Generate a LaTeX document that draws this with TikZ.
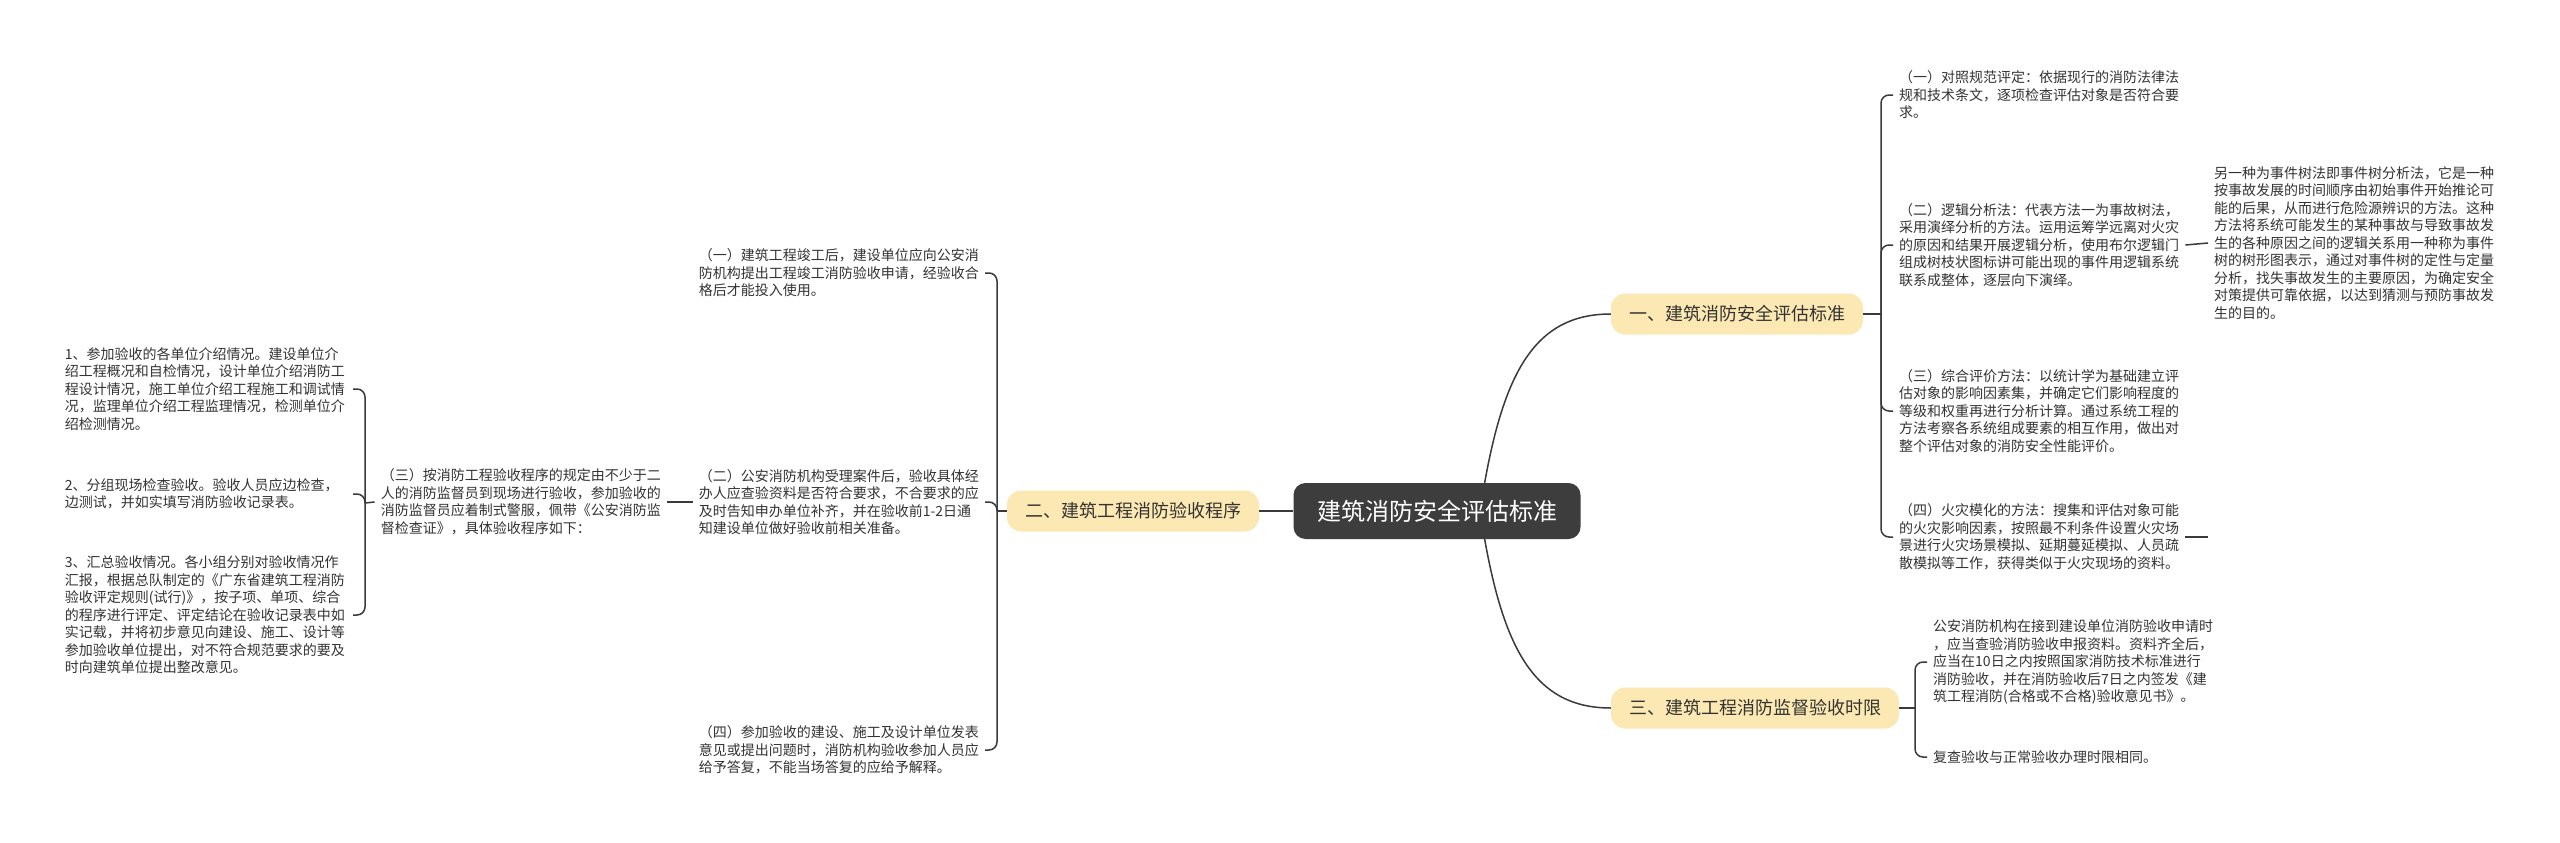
\documentclass[tikz,border=0pt]{standalone}
\usepackage{fontspec}
\setmainfont{Noto Sans CJK SC}
\definecolor{rootgray}{HTML}{3D3D3D}
\definecolor{topicyellow}{HTML}{FCE8B2}
\definecolor{textgray}{HTML}{333333}
\definecolor{linegray}{HTML}{3A3A3A}

\begin{document}
\begin{tikzpicture}[
      x = 1pt, y = -1pt,
      every node/.style = {inner sep = 0pt, text = textgray},
      root/.style = {
        fill = rootgray, text = white, rounded corners = 12pt,
        minimum width = 287pt, minimum height = 56pt,
        font = \fontsize{24}{28}\selectfont},
      topic/.style = {
        fill = topicyellow, rounded corners = 14pt,
        minimum height = 41pt, inner xsep = 18pt,
        font = \fontsize{18}{22}\selectfont},
      leaf/.style = {
        align = left, inner xsep = 6pt, inner ysep = 2pt,
        font = \fontsize{14}{17.5}\selectfont},
      link/.style = {linegray, line width = 1.5pt, rounded corners = 8pt}
      ]
    \fill[white] (0,0) rectangle (2560,843);
    \useasboundingbox (0,0) rectangle (2560,843);
    % main topics
    \node[topic] (b1) at (1737,314) {一、建筑消防安全评估标准}; % 1
    \node[topic] (b2) at (1133,511) {二、建筑工程消防验收程序}; % 2
    \node[topic] (b3) at (1755,708) {三、建筑工程消防监督验收时限}; % 3
    \coordinate (cr) at (1480,511);
    \draw[link] (cr) .. controls (1500,380) and (1530,314) .. (b1.west);
    \draw[link] (cr) .. controls (1500,642) and (1530,708) .. (b3.west);
    \node[root] (c) at (1437,511) {建筑消防安全评估标准}; % 0
    \draw[link] (c.west) -- (b2.east);
    % topic 1
    \coordinate (j1) at (1881,314);
    \node[leaf, anchor = west] (r1) at (1893,95) {（一）对照规范评定：依据现行的消防法律法\\规和技术条文，逐项检查评估对象是否符合要\\求。};
    \node[leaf, anchor = west] (r2) at (1893,245) {（二）逻辑分析法：代表方法一为事故树法，\\采用演绎分析的方法。运用运筹学远离对火灾\\的原因和结果开展逻辑分析，使用布尔逻辑门\\组成树枝状图标讲可能出现的事件用逻辑系统\\联系成整体，逐层向下演绎。};
    \node[leaf, anchor = west] (r3) at (1893,411) {（三）综合评价方法：以统计学为基础建立评\\估对象的影响因素集，并确定它们影响程度的\\等级和权重再进行分析计算。通过系统工程的\\方法考察各系统组成要素的相互作用，做出对\\整个评估对象的消防安全性能评价。};
    \node[leaf, anchor = west] (r4) at (1893,537) {（四）火灾模化的方法：搜集和评估对象可能\\的火灾影响因素，按照最不利条件设置火灾场\\景进行火灾场景模拟、延期蔓延模拟、人员疏\\散模拟等工作，获得类似于火灾现场的资料。};
    \node[leaf, anchor = west] (r5) at (2208,243) {另一种为事件树法即事件树分析法，它是一种\\按事故发展的时间顺序由初始事件开始推论可\\能的后果，从而进行危险源辨识的方法。这种\\方法将系统可能发生的某种事故与导致事故发\\生的各种原因之间的逻辑关系用一种称为事件\\树的树形图表示，通过对事件树的定性与定量\\分析，找失事故发生的主要原因，为确定安全\\对策提供可靠依据，以达到猜测与预防事故发\\生的目的。};
    \coordinate (r4x) at (2208,537);
    \draw[link] (b1.east) -- (j1);
    \draw[link] (j1) |- (r1.west);
    \draw[link] (j1) |- (r2.west);
    \draw[link] (j1) |- (r3.west);
    \draw[link] (j1) |- (r4.west);
    \draw[link] (r2.east) -- (r5.west);
    \draw[link] (r4.east) -- (r4x);
    % topic 3
    \coordinate (j3) at (1915,708);
    \node[leaf, anchor = west] (t1) at (1927,662) {公安消防机构在接到建设单位消防验收申请时\\，应当查验消防验收申报资料。资料齐全后，\\应当在10日之内按照国家消防技术标准进行\\消防验收，并在消防验收后7日之内签发《建\\筑工程消防(合格或不合格)验收意见书》。};
    \node[leaf, anchor = west] (t2) at (1927,757) {复查验收与正常验收办理时限相同。};
    \draw[link] (b3.east) -- (j3);
    \draw[link] (j3) |- (t1.west);
    \draw[link] (j3) |- (t2.west);
    % topic 2
    \coordinate (j2) at (997,511);
    \node[leaf, anchor = east] (l1) at (985,273) {（一）建筑工程竣工后，建设单位应向公安消\\防机构提出工程竣工消防验收申请，经验收合\\格后才能投入使用。};
    \node[leaf, anchor = east] (l2) at (985,502) {（二）公安消防机构受理案件后，验收具体经\\办人应查验资料是否符合要求，不合要求的应\\及时告知申办单位补齐，并在验收前1-2日通\\知建设单位做好验收前相关准备。};
    \node[leaf, anchor = east] (l4) at (985,750) {（四）参加验收的建设、施工及设计单位发表\\意见或提出问题时，消防机构验收参加人员应\\给予答复，不能当场答复的应给予解释。};
    \node[leaf, anchor = east] (l3) at (667,502) {（三）按消防工程验收程序的规定由不少于二\\人的消防监督员到现场进行验收，参加验收的\\消防监督员应着制式警服，佩带《公安消防监\\督检查证》，具体验收程序如下：};
    \draw[link] (b2.west) -- (j2);
    \draw[link] (j2) |- (l1.east);
    \draw[link] (j2) |- (l2.east);
    \draw[link] (j2) |- (l4.east);
    \draw[link] (l2.west) -- (l3.east);
    % steps under (三)
    \coordinate (j4) at (365,503);
    \begin{scope}[every node/.append style = {text width = 282pt}]
      \node[leaf, anchor = east] (m1) at (353,389) {1、参加验收的各单位介绍情况。建设单位介\\绍工程概况和自检情况，设计单位介绍消防工\\程设计情况，施工单位介绍工程施工和调试情\\况，监理单位介绍工程监理情况，检测单位介\\绍检测情况。};
      \node[leaf, anchor = east] (m2) at (353,494) {2、分组现场检查验收。验收人员应边检查，\\边测试，并如实填写消防验收记录表。};
      \node[leaf, anchor = east] (m3) at (353,615) {3、汇总验收情况。各小组分别对验收情况作\\汇报，根据总队制定的《广东省建筑工程消防\\验收评定规则(试行)》，按子项、单项、综合\\的程序进行评定、评定结论在验收记录表中如\\实记载，并将初步意见向建设、施工、设计等\\参加验收单位提出，对不符合规范要求的要及\\时向建筑单位提出整改意见。};
    \end{scope}
    \draw[link] (l3.west) -- (j4);
    \draw[link] (j4) |- (m1.east);
    \draw[link] (j4) |- (m2.east);
    \draw[link] (j4) |- (m3.east);
  \end{tikzpicture}
\end{document}
